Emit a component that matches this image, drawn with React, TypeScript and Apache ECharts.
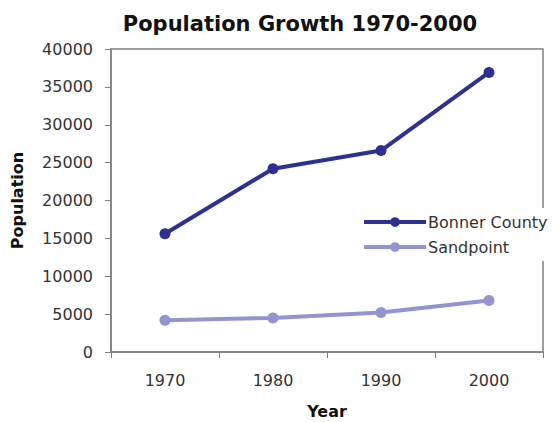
import React, { useEffect, useRef } from "react";
import * as echarts from "echarts";

const years = ["1970", "1980", "1990", "2000"];
const bonnerCounty = [15600, 24200, 26600, 36900];
const sandpoint = [4200, 4500, 5200, 6800];

export default function App() {
  const ref = useRef<HTMLDivElement>(null);
  useEffect(() => {
    const chart = echarts.init(ref.current!, null, { renderer: "svg" });
    const font = "DejaVu Sans";
    const dark = "#2e3192";
    const light = "#9494d0";
    chart.setOption({
      animation: false,
      backgroundColor: "#fff",
      title: {
        text: "Population Growth 1970-2000",
        left: 295,
        textAlign: "center",
        top: 8,
        textStyle: { fontFamily: font, fontWeight: "bold", fontSize: 21, color: "#111" },
      },
      grid: {
        left: 111,
        right: 14,
        top: 49,
        bottom: 70,
        show: true,
        outerBoundsMode: "none",
        containLabel: false,
        borderColor: "#808080",
        borderWidth: 1.5,
        backgroundColor: "transparent",
      },
      legend: {
        orient: "vertical",
        left: 358,
        top: 208,
        itemWidth: 62,
        itemHeight: 12,
        itemGap: 9,
        padding: [6, 2, 6, 4],
        backgroundColor: "#fff",
        textStyle: { fontFamily: font, fontSize: 16, color: "#333", padding: [0, 0, 0, -3] },
        data: [
          { name: "Bonner County", lineStyle: { width: 4, color: dark } },
          { name: "Sandpoint", lineStyle: { width: 4, color: light } },
        ],
      },
      xAxis: {
        type: "category",
        data: years,
        boundaryGap: true,
        name: "Year",
        nameLocation: "middle",
        nameGap: 51,
        nameTextStyle: { fontFamily: font, fontWeight: "bold", fontSize: 16, color: "#111" },
        axisLine: { lineStyle: { color: "#808080", width: 1.5 } },
        axisTick: { show: true, length: 6, alignWithLabel: false, lineStyle: { color: "#808080" } },
        axisLabel: { fontFamily: font, fontSize: 16, color: "#333", margin: 20 },
        splitLine: { show: false },
      },
      yAxis: {
        type: "value",
        min: 0,
        max: 40000,
        interval: 5000,
        name: "Population",
        nameLocation: "middle",
        nameGap: 86,
        nameRotate: 90,
        nameTextStyle: { fontFamily: font, fontWeight: "bold", fontSize: 16, color: "#111" },
        axisLine: { show: true, lineStyle: { color: "#808080", width: 1.5 } },
        axisTick: { show: true, length: 6, lineStyle: { color: "#808080" } },
        axisLabel: {
          fontFamily: font,
          fontSize: 16,
          color: "#333",
          margin: 18,
          formatter: (v: number) => String(v),
        },
        splitLine: { show: false },
      },
      series: [
        {
          name: "Bonner County",
          type: "line",
          data: bonnerCounty,
          symbol: "circle",
          symbolSize: 11,
          lineStyle: { width: 4, color: dark },
          itemStyle: { color: dark },
        },
        {
          name: "Sandpoint",
          type: "line",
          data: sandpoint,
          symbol: "circle",
          symbolSize: 11,
          lineStyle: { width: 4, color: light },
          itemStyle: { color: light },
        },
      ],
    });
    return () => chart.dispose();
  }, []);
  return <div ref={ref} style={{ width: 557, height: 422, position: "absolute", left: 0, top: 0 }} />;
}
